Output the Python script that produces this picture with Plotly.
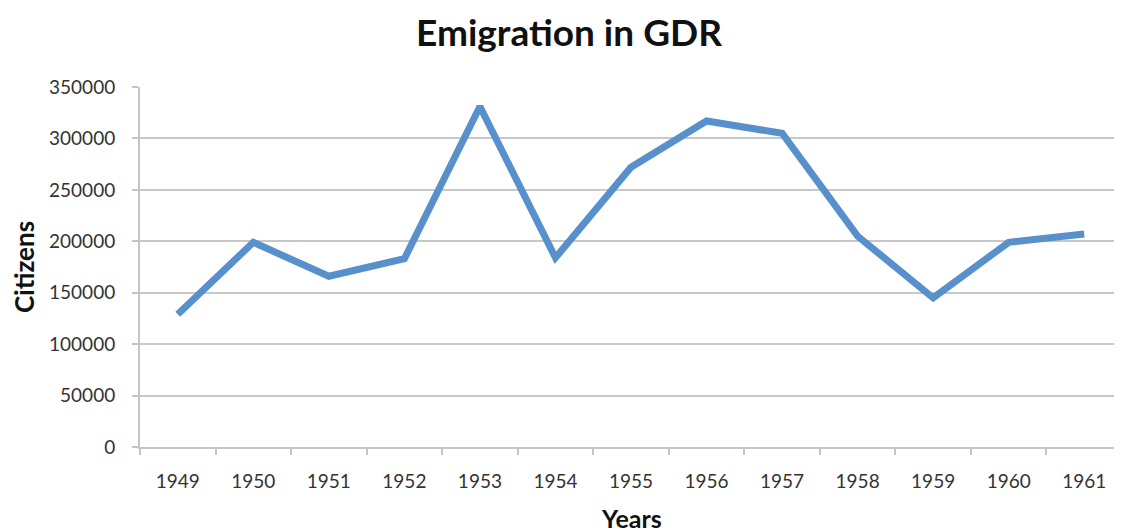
import plotly.graph_objects as go

years = ["1949", "1950", "1951", "1952", "1953", "1954", "1955",
         "1956", "1957", "1958", "1959", "1960", "1961"]
citizens = [129000, 199000, 166000, 183000, 331000, 184000, 272000,
            317000, 305000, 205000, 145000, 199000, 207000]
y_ticks = [0, 50000, 100000, 150000, 200000, 250000, 300000, 350000]

FONT = "Lato, 'Open Sans', sans-serif"

fig = go.Figure()
fig.add_trace(go.Scatter(
    x=years, y=citizens, mode="lines",
    line=dict(color="#5790CA", width=7),
    hoverinfo="x+y",
))

fig.update_layout(
    width=1122, height=532,
    margin=dict(l=132, r=8, t=79, b=93),
    paper_bgcolor="white", plot_bgcolor="white",
    showlegend=False,
    title=dict(text="<b>Emigration in GDR</b>", x=0.5, xanchor="center",
               y=0.952, yanchor="middle",
               font=dict(family=FONT, size=37, color="#111111")),
    font=dict(family=FONT, color="#333333"),
    annotations=[
        dict(text="<b>Years</b>", xref="paper", yref="paper",
             x=0.5, y=-0.196, xanchor="center", yanchor="middle",
             showarrow=False, font=dict(family=FONT, size=25, color="#111111")),
        dict(text="<b>Citizens</b>", xref="paper", yref="paper",
             x=-0.118, y=0.5, xanchor="center", yanchor="middle", textangle=-90,
             showarrow=False, font=dict(family=FONT, size=26, color="#111111")),
    ],
)

fig.update_xaxes(
    type="category", range=[-0.5, 12.5], automargin=False,
    tickson="boundaries", ticks="outside", ticklen=6, tickwidth=2,
    tickcolor="#c4c4c4", showline=True, linecolor="#c4c4c4", linewidth=2,
    showgrid=False, zeroline=False,
    tickfont=dict(size=19, color="#333333"),
    ticklabelstandoff=16,
)

fig.update_yaxes(
    range=[0, 350000], tickvals=y_ticks, ticktext=[str(v) for v in y_ticks],
    automargin=False,
    ticks="outside", ticklen=6, tickwidth=2, tickcolor="#c4c4c4",
    showline=True, linecolor="#c4c4c4", linewidth=2,
    showgrid=True, gridcolor="#c8c8c8", gridwidth=2, zeroline=False,
    tickfont=dict(size=19, color="#333333"),
    ticklabelstandoff=13,
)

fig.write_html("out.html")
